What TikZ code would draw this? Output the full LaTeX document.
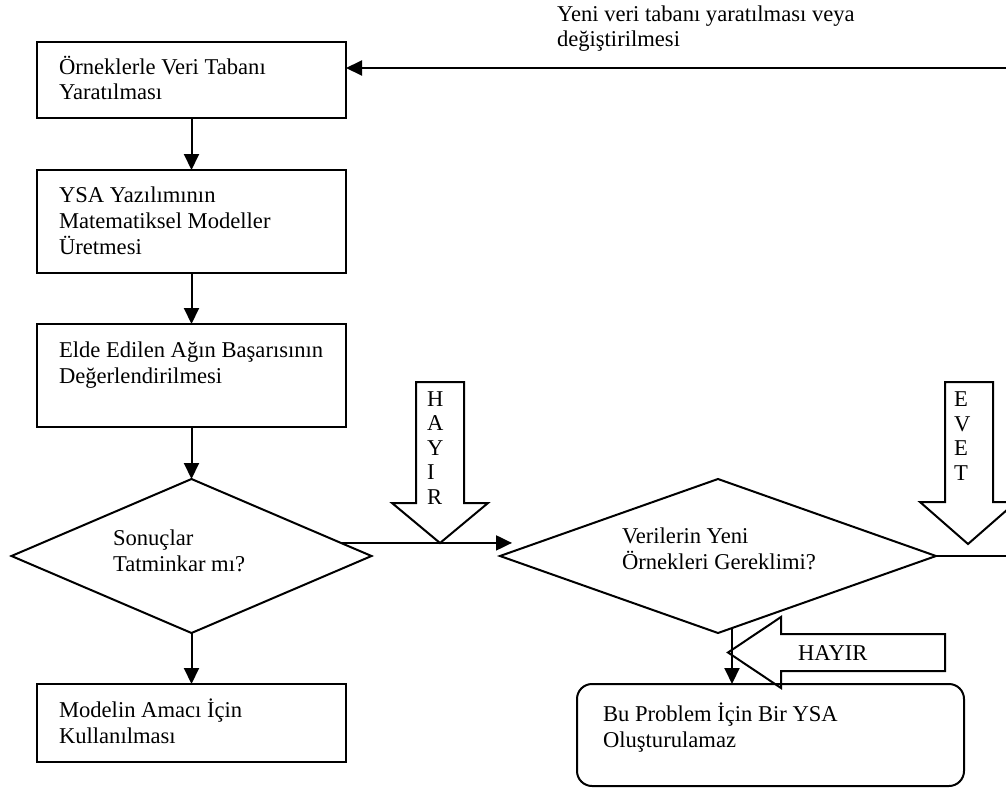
\documentclass[tikz,border=0pt]{standalone}
\usepackage{fontspec}
\setmainfont{Liberation Serif}
\usetikzlibrary{arrows.meta,shapes.geometric}
\begin{document}
\begin{tikzpicture}[x=0.5pt,y=-0.5pt,
  line width=1pt,
  every node/.style={inner sep=0pt, outer sep=0pt},
  procbox/.style={draw, rectangle, minimum width=154.5pt},
  decision/.style={draw, diamond, minimum width=#1, minimum height=77pt},
  endbox/.style={draw, rectangle, rounded corners=7.5pt, minimum width=193.5pt, minimum height=51pt},
  txt/.style={anchor=base west, font=\fontsize{11.3pt}{13pt}\selectfont},
  vtxt/.style={anchor=base west, font=\fontsize{11.3pt}{12.25pt}\selectfont},
  flow/.style={-{Triangle[length=8pt,width=7.5pt]}},
  blockarrow/.style={draw, line width=1pt, line join=miter}
]
\useasboundingbox (0,0) rectangle (1006,787);

% process boxes on the left column
\node[procbox, minimum height=38pt]   (b1) at (191.5,80) {};
\node[procbox, minimum height=51.5pt] (b2) at (191.5,221.5) {};
\node[procbox, minimum height=51.5pt] (b3) at (191.5,375.5) {};
\node[decision=180pt] (d1) at (191.5,556) {};
\node[procbox, minimum height=39pt]   (b4) at (191.5,723) {};

% second decision and terminal box
\node[decision=218pt] (d2) at (718,556) {};
\node[endbox] (rb) at (770.5,735) {};

% texts
\node[txt] (t1) at (59,74)  {\parbox[t]{200pt}{Örneklerle Veri Tabanı\\Yaratılması}};
\node[txt] (t2) at (59,202) {\parbox[t]{200pt}{YSA Yazılımının\\Matematiksel Modeller\\Üretmesi}};
\node[txt] (t3) at (59,357) {\parbox[t]{200pt}{Elde Edilen Ağın Başarısının\\Değerlendirilmesi}};
\node[txt] (t4) at (113,545) {\parbox[t]{200pt}{Sonuçlar\\Tatminkar mı?}};
\node[txt] (t5) at (59,717) {\parbox[t]{200pt}{Modelin Amacı İçin\\Kullanılması}};
\node[txt] (t6) at (622,543) {\parbox[t]{200pt}{Verilerin Yeni\\Örnekleri Gereklimi?}};
\node[txt] (t7) at (603,721) {\parbox[t]{200pt}{Bu Problem İçin Bir YSA\\Oluşturulamaz}};
\node[txt] (t8) at (557,21)  {\parbox[t]{200pt}{Yeni veri tabanı yaratılması veya\\değiştirilmesi}};

% main flow
\draw[flow] (b1.south) -- (b2.north);
\draw[flow] (b2.south) -- (b3.north);
\draw[flow] (b3.south) -- (d1.north);
\draw[flow] (d1.south) -- (b4.north);

% from the first decision to the second
\coordinate (hx) at (512,0);
\coordinate (hit) at (d1.5 -| hx);
\draw[flow] (d1.5) -- (hit);

% from the second decision to the terminal box
\draw[flow] (d2.-79) -- (d2.-79 |- rb.north);

% feedback loop back to the data base box
\coordinate (fb) at (1012,68);
\coordinate (fe) at (346,68);
\draw[flow] (d2.east) -- (fb |- d2.east) -- (fb) -- (fe);

% block arrows with their labels
\draw[blockarrow] (416,382) -- (464,382) -- (464,503) -- (488,503) -- (440,543)
  -- (392,503) -- (416,503) -- cycle;
\node[vtxt] (hv) at (427,406) {\parbox[t]{20pt}{H\\A\\Y\\I\\R}};

\draw[blockarrow] (945,382) -- (993,382) -- (993,502) -- (1016,502) -- (968,544)
  -- (920,502) -- (945,502) -- cycle;
\node[vtxt] (ev) at (954,406.5) {\parbox[t]{20pt}{E\\V\\E\\T}};

\draw[blockarrow] (945,634) -- (945,671) -- (781,671) -- (781,688) -- (728,652.5)
  -- (781,617) -- (781,634) -- cycle;
\node[txt] (hh) at (798,660) {HAYIR};
\end{tikzpicture}
\end{document}
